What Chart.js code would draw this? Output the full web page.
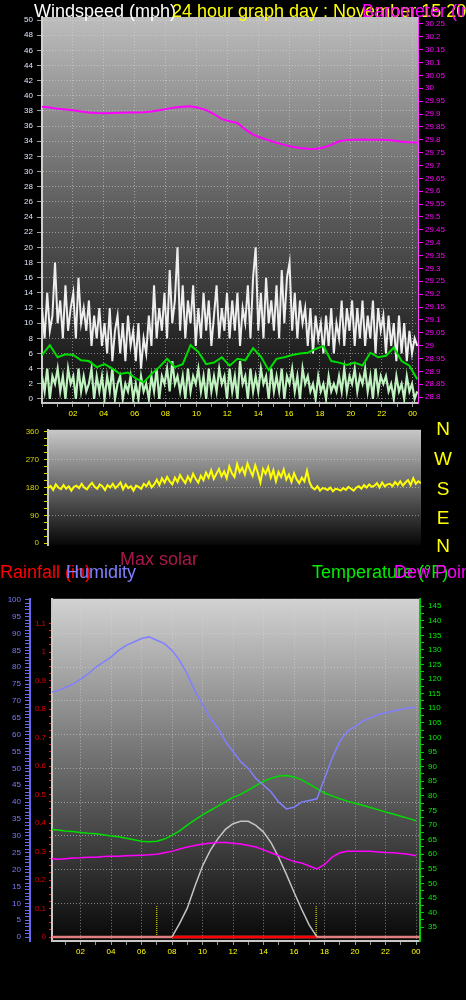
<!DOCTYPE html>
<html>
<head>
<meta charset="utf-8">
<script src="https://cdn.jsdelivr.net/npm/chart.js@4.4.0/dist/chart.umd.min.js"></script>
<style>
body { margin:0; background:#000; width:466px; height:1000px; overflow:hidden; position:relative; font-family:"Liberation Sans", Arial, sans-serif; }
canvas { position:absolute; left:0; }
.t { position:absolute; font-size:18px; line-height:18px; white-space:nowrap; }
.d { position:absolute; left:434px; width:18px; text-align:center; font-size:19px; line-height:19px; color:#ffff00; }
</style>
</head>
<body>
<canvas id="windChart" width="466" height="420" style="top:0"></canvas>
<canvas id="dirChart" width="466" height="135" style="top:420px"></canvas>
<canvas id="tempChart" width="466" height="410" style="top:590px"></canvas>

<div class="t" style="left:34px;top:2px;color:#fff">Windspeed (mph)</div>
<div class="t" style="left:172px;top:2px;color:#ffff00">24 hour graph day : November 15 2014</div>
<div class="t" style="left:362px;top:2px;color:#ff00ff">Barometer (in)</div>

<div class="d" style="top:419px">N</div>
<div class="d" style="top:449px">W</div>
<div class="d" style="top:479px">S</div>
<div class="d" style="top:508px">E</div>
<div class="d" style="top:536px">N</div>

<div class="t" style="left:120px;top:550px;color:#a8184c">Max solar</div>
<div class="t" style="left:0;top:563px;color:#ff0000">Rainfall (in)</div>
<div class="t" style="left:66px;top:563px;color:#8080ff">Humidity</div>
<div class="t" style="left:312px;top:563px;color:#00ee00">Temperature (°F)</div>
<div class="t" style="left:394px;top:563px;color:#ff00ff">Dew Point (°F)</div>

<script>
// ---- tick labels ----
const hourTicks = [0,1,2,3,4,5,6,7,8,9,10,11,12,13,14,15,16,17,18,19,20,21,22,23,24];
const windTicks = [0,2,4,6,8,10,12,14,16,18,20,22,24,26,28,30,32,34,36,38,40,42,44,46,48,50];
const baroLabels = ['28.8','28.85','28.9','28.95','29','29.05','29.1','29.15','29.2','29.25','29.3','29.35','29.4','29.45','29.5','29.55','29.6','29.65','29.7','29.75','29.8','29.85','29.9','29.95','30','30.05','30.1','30.15','30.2','30.25'];
const dirLabels = ['0','90','180','270','360'];
const humLabels = ['0','5','10','15','20','25','30','35','40','45','50','55','60','65','70','75','80','85','90','95','100'];
const rainLabels = ['0','0.1','0.2','0.3','0.4','0.5','0.6','0.7','0.8','0.9','1','1.1'];
const tempLabels = ['35','40','45','50','55','60','65','70','75','80','85','90','95','100','105','110','115','120','125','130','135','140','145'];

// ---- top panel: wind (10 minute samples) and barometer (half hour) ----
const gust = [
  12,8,14,9,11,18,  10,13,8,15,9,12,  14,8,16,10,12,9,  13,7,11,8,12,7,
  10,6,12,5,9,11,   6,10,5,11,7,9,    5,10,4,8,6,11,    7,15,8,12,9,14,
  8,17,10,13,20,9,  15,8,13,10,15,7,  12,8,14,9,13,7,   11,15,8,12,9,14,
  8,13,9,14,7,12,   10,15,8,16,20,9,  14,8,16,10,13,9,  15,8,17,10,16,18,
  9,14,8,13,10,12,  7,12,6,11,8,10,   6,11,7,12,6,10,   8,13,7,12,9,13,
  7,12,8,13,7,11,   8,13,6,12,9,11,   6,11,7,10,5,11,   6,10,5,9,6,8,
  7
];
const windSpeed = [
  3,1,4,0,3,2,  4,1,3,0,4,2,  3,0,4,1,3,1,  2,4,0,3,1,3,
  0,3,1,4,0,2,  3,0,2,1,3,0,  2,0,3,1,2,0,  3,1,4,0,3,2,
  4,1,5,2,3,1,  3,0,4,1,3,2,  4,1,3,0,4,1,  3,1,4,2,3,0,
  4,1,3,0,5,2,  3,0,4,1,3,1,  4,2,3,0,4,1,  3,1,4,0,3,2,
  4,1,3,0,4,2,  3,1,2,0,3,1,  2,0,3,1,2,1,  3,1,4,1,3,2,
  4,1,3,2,4,1,  3,0,4,1,3,2,  3,1,2,0,3,1,  2,0,3,1,2,0,
  1
];
const avgSpeed = [
  5.8,7.1,5.5,5.9,5.8,5.1,5.0,4.2,4.6,4.0,3.3,3.5,2.7,2.2,3.3,4.2,
  5.3,4.2,4.6,7.1,6.2,4.6,4.8,5.5,4.4,5.3,5.1,6.7,5.6,3.8,5.3,5.5,
  5.8,6.0,6.1,6.6,7.0,5.0,4.8,4.5,4.8,4.4,6.1,5.5,5.7,6.8,5.0,4.4,
  2.6
];
const pressure = [
  29.928,29.925,29.92,29.918,29.915,29.91,29.906,29.904,29.903,29.904,
  29.905,29.906,29.906,29.907,29.91,29.915,29.92,29.925,29.928,29.93,
  29.924,29.915,29.9,29.88,29.872,29.865,29.84,29.82,29.808,29.798,
  29.788,29.78,29.773,29.768,29.765,29.764,29.77,29.78,29.794,29.799,
  29.8,29.801,29.8,29.8,29.799,29.797,29.792,29.79,29.789
];

// ---- middle panel: wind direction (10 minute samples) ----
const direction = [
  178,185,172,190,180,175,  188,176,184,170,182,186,  178,192,180,174,186,195,
  182,176,190,184,172,188,  180,192,178,186,196,174,  190,178,184,170,186,182,
  176,192,184,198,180,190,  205,188,210,196,214,200,  190,212,198,220,206,194,
  216,200,224,208,196,218,  204,228,212,236,208,224,  240,216,232,210,248,226,
  214,256,230,244,222,258,  236,218,252,228,196,240,  224,246,212,236,200,230,
  214,238,206,222,198,226,  206,194,212,200,234,196,  180,174,184,170,178,176,
  172,180,168,176,174,170,  178,172,182,176,170,180,  184,176,188,180,190,182,
  186,194,180,196,184,190,  192,184,198,188,200,186,  196,204,188,210,192,200,
  194
];

// ---- bottom panel: half hour samples ----
const humidity = [
  72.5,73,74,75,76.5,78,80,81.5,83,85,86.5,87.5,88.5,89,88,87,85,82,78,73,
  69,65,62,58,55,52,50,47,45,43,40,38,38.5,40,40.5,41,47,53,58,61,
  62.5,64,65,66,66.5,67,67.5,68,68
];
const temperature = [
  68.5,68.3,68,67.8,67.5,67.2,67,66.7,66.3,66,65.5,65,64.5,64.3,64.5,65.2,66.5,68,70,71.8,
  73.5,75,76.5,78,79.5,80.5,82,83.5,85,86,86.8,87,86.5,85.5,84,82.5,81,80,79,78.2,
  77.5,76.8,76,75.3,74.5,73.8,73,72.3,71.5
];
const dewPoint = [
  58.5,58.3,58.5,58.7,58.8,59,59,59.2,59.3,59.3,59.5,59.6,59.7,59.8,60,60.5,61,61.8,62.5,63,
  63.5,63.8,64,64,63.8,63.5,63,62.5,61.5,60.5,59.5,58.5,57.5,57,56,55,56.5,59,60.5,61,
  61,61,61,60.8,60.6,60.5,60.3,60,59.5
];
// max solar from 08:00 to 17:30, every half hour (W/m2)
const maxSolar = [0,40,85,150,210,255,290,318,335,342,342,330,310,278,235,185,132,82,35,0];
const solar = [0,0];            // measured solar, 08:00 and 17:30
const rainfall = [0,0];         // start and end of day
const sunMarks = [7.0,17.45];   // sunrise / sunset marker hours

// ---- time grids ----
const tenMinTop = gust.map((_, i) => i * 24.3 / (gust.length - 1));
const halfHourTop = pressure.map((_, i) => i * 24.3 / (pressure.length - 1));
const tenMinDir = direction.map((_, i) => i * 24.3 / (direction.length - 1));
const halfHour = humidity.map((_, i) => i * 0.5);
const solarHours = maxSolar.map((_, i) => 8 + i * 0.5);

const xy = (xs, ys) => ys.map((y, i) => ({ x: xs[i], y: y }));
const setTicks = vals => scale => { scale.ticks = vals.map(v => ({ value: v })); };
const hourLabel = v => (v % 2 !== 0 || v === 0) ? '' : (v === 24 ? '00' : String(v).padStart(2, '0'));

const font8 = { size: 8, family: '"Liberation Sans", Arial, sans-serif' };
const dotted = 'rgba(215,215,215,0.55)';

// gradient behind each plot area
const plotBackground = {
  id: 'plotBackground',
  beforeDraw(chart, args, opts) {
    const { ctx, chartArea: a } = chart;
    const g = ctx.createLinearGradient(0, a.top, 0, a.bottom);
    g.addColorStop(0, opts.top);
    g.addColorStop(0.5, opts.mid);
    g.addColorStop(1, opts.bottom);
    ctx.save();
    ctx.fillStyle = g;
    ctx.fillRect(a.left, a.top, a.right - a.left, a.bottom - a.top);
    ctx.restore();
  }
};

function baseOptions(bg, pad) {
  return {
    responsive: false,
    animation: false,
    layout: { padding: pad },
    elements: { point: { radius: 0 }, line: { tension: 0 } },
    plugins: { legend: { display: false }, tooltip: { enabled: false }, plotBackground: bg }
  };
}

// ---------- wind / barometer ----------
const windOpts = baseOptions({ top: '#bdbdbd', mid: '#5c5c5c', bottom: '#0c0c0c' }, { top: 17 });
windOpts.scales = {
  x: {
    type: 'linear', min: 0, max: 24.35,
    afterBuildTicks: setTicks(hourTicks),
    afterFit: s => { s.height = 17; },
    ticks: { color: '#ffff00', font: font8, padding: 2, maxRotation: 0, autoSkip: false, callback: hourLabel },
    grid: { color: c => c.tick && c.tick.value % 2 === 0 ? dotted : 'transparent', tickColor: '#9a9a9a', tickLength: 4 },
    border: { color: '#c8c8c8', width: 2, dash: [1, 2] }
  },
  yWind: {
    type: 'linear', position: 'left', min: -0.53, max: 50.4,
    afterBuildTicks: setTicks(windTicks),
    afterFit: s => { s.width = 42; },
    ticks: { color: '#dde6ff', font: font8, padding: 4, autoSkip: false },
    grid: { color: dotted, tickColor: '#a0a0a0', tickLength: 5 },
    border: { color: '#cfcfcf', width: 2, dash: [1, 2] }
  },
  yBaro: {
    type: 'linear', position: 'right', min: 28.777, max: 30.277,
    afterBuildTicks: setTicks(baroLabels.map(Number)),
    afterFit: s => { s.width = 48; },
    ticks: { color: '#ff00ff', font: font8, padding: 2, autoSkip: false, callback: v => String(Math.round(v * 100) / 100) },
    grid: { drawOnChartArea: false, tickColor: '#ff00ff', tickLength: 5 },
    border: { color: '#ff40ff', width: 1 }
  }
};
new Chart(document.getElementById('windChart'), {
  type: 'line',
  data: {
    datasets: [
      { label: 'Barometer', data: xy(halfHourTop, pressure), yAxisID: 'yBaro', borderColor: '#ff00ff', borderWidth: 2 },
      { label: 'Average speed', data: xy(halfHourTop, avgSpeed), yAxisID: 'yWind', borderColor: '#00dd00', borderWidth: 2 },
      { label: 'Wind speed', data: xy(tenMinTop, windSpeed), yAxisID: 'yWind', borderColor: '#c0f2c0', borderWidth: 2.2 },
      { label: 'Gust', data: xy(tenMinTop, gust), yAxisID: 'yWind', borderColor: '#eeeeee', borderWidth: 2 }
    ]
  },
  options: windOpts,
  plugins: [plotBackground]
});

// ---------- wind direction ----------
const dirOpts = baseOptions({ top: '#c8c8c8', mid: '#666666', bottom: '#060606' }, { top: 7, bottom: 7, right: 45 });
dirOpts.scales = {
  x: { type: 'linear', min: 0, max: 24.3, display: false },
  y: {
    type: 'linear', position: 'left', min: -6.2, max: 366.2,
    afterBuildTicks: setTicks([0,22.5,45,67.5,90,112.5,135,157.5,180,202.5,225,247.5,270,292.5,315,337.5,360]),
    afterFit: s => { s.width = 48; },
    ticks: { color: '#d6d600', font: font8, padding: 5, autoSkip: false, callback: v => dirLabels.includes(String(v)) ? String(v) : '' },
    grid: { color: c => c.tick && c.tick.value % 90 === 0 && c.tick.value > 0 && c.tick.value < 360 ? dotted : 'transparent', tickColor: '#d6d600', tickLength: 4 },
    border: { color: '#c8c8c8', width: 2, dash: [1, 2] }
  }
};
new Chart(document.getElementById('dirChart'), {
  type: 'line',
  data: {
    datasets: [
      { label: 'Direction', data: xy(tenMinDir, direction), borderColor: '#ffff00', borderWidth: 2 }
    ]
  },
  options: dirOpts,
  plugins: [plotBackground]
});

// ---------- humidity / temperature / rain / solar ----------
const humTicks = [];
for (let v = 0; v <= 100; v++) humTicks.push(v);
const rainTicks = [];
for (let i = 0; i <= 44; i++) rainTicks.push(Math.round(i * 25) / 1000);
const tempTicks = [];
for (let v = 35; v <= 145; v += 2.5) tempTicks.push(v);

const tempOpts = baseOptions({ top: '#d2d2d2', mid: '#6a6a6a', bottom: '#080808' }, { top: 6, bottom: 39 });
tempOpts.scales = {
  x: {
    type: 'linear', min: 0.13, max: 24.26,
    afterBuildTicks: setTicks(hourTicks.slice(1)),
    afterFit: s => { s.height = 20; },
    ticks: { color: '#ffff00', font: font8, padding: 2, maxRotation: 0, autoSkip: false, callback: hourLabel },
    grid: { color: c => c.tick && c.tick.value % 2 === 0 ? dotted : 'transparent', tickColor: '#9a9a9a', tickLength: 4 },
    border: { color: '#c8c8c8', width: 2, dash: [1, 2] }
  },
  yHum: {
    type: 'linear', position: 'left', weight: 2, min: -1.18, max: 100.3,
    afterBuildTicks: setTicks(humTicks),
    afterFit: s => { s.width = 30; },
    ticks: { color: '#7a7aff', font: font8, padding: 4, autoSkip: false, callback: v => humLabels.includes(String(v)) ? String(v) : '' },
    grid: { drawOnChartArea: false, tickColor: '#6a6aee', tickLength: 5 },
    border: { color: '#6a6aee', width: 2 }
  },
  yRain: {
    type: 'linear', position: 'left', weight: 1, min: -0.014, max: 1.187,
    afterBuildTicks: setTicks(rainTicks),
    afterFit: s => { s.width = 22; },
    ticks: { color: '#dd0000', font: font8, padding: 3, autoSkip: false, callback: v => { const l = String(Math.round(v * 1000) / 1000); return rainLabels.includes(l) ? l : ''; } },
    grid: { drawOnChartArea: false, tickColor: '#dd2020', tickLength: 3 },
    border: { color: '#c8c8c8', width: 2 }
  },
  yGrid: {
    type: 'linear', display: true, position: 'left', weight: 0, min: -1.18, max: 100.3,
    afterBuildTicks: setTicks([10,20,30,40,50,60,70,80,90,100]),
    afterFit: s => { s.width = 0; },
    ticks: { display: false },
    grid: { color: dotted, drawTicks: false },
    border: { display: false, dash: [1, 2] }
  },
  yTemp: {
    type: 'linear', position: 'right', min: 30.3, max: 147.5,
    afterBuildTicks: setTicks(tempTicks),
    afterFit: s => { s.width = 46; },
    ticks: { color: '#00ee00', font: font8, padding: 4, autoSkip: false, callback: v => tempLabels.includes(String(v)) ? String(v) : '' },
    grid: { drawOnChartArea: false, tickColor: '#00cc00', tickLength: 4 },
    border: { color: '#00cc00', width: 2 }
  },
  ySolar: { type: 'linear', display: false, min: -12, max: 1000 }
};
new Chart(document.getElementById('tempChart'), {
  type: 'line',
  data: {
    datasets: [
      { label: 'Humidity', data: xy(halfHour, humidity), yAxisID: 'yHum', borderColor: '#8080ff', borderWidth: 1.5 },
      { label: 'Temperature', data: xy(halfHour, temperature), yAxisID: 'yTemp', borderColor: '#00dd00', borderWidth: 1.5 },
      { label: 'Dew point', data: xy(halfHour, dewPoint), yAxisID: 'yTemp', borderColor: '#ff00ff', borderWidth: 1.5 },
      { label: 'Max solar', data: xy(solarHours, maxSolar), yAxisID: 'ySolar', borderColor: '#c4c4c4', borderWidth: 1.5 },
      { label: 'Solar', data: xy([8, 17.5], solar), yAxisID: 'ySolar', borderColor: '#ff0000', borderWidth: 2.5 },
      { label: 'Rainfall', data: xy([0, 24.3], rainfall), yAxisID: 'yRain', borderColor: '#e08080', borderWidth: 2.5 },
      { label: 'Sunrise', data: [{ x: sunMarks[0], y: 0 }, { x: sunMarks[0], y: 0.108 }], yAxisID: 'yRain', borderColor: '#ffff00', borderWidth: 1, borderDash: [1, 1] },
      { label: 'Sunset', data: [{ x: sunMarks[1], y: 0 }, { x: sunMarks[1], y: 0.108 }], yAxisID: 'yRain', borderColor: '#ffff00', borderWidth: 1, borderDash: [1, 1] }
    ]
  },
  options: tempOpts,
  plugins: [plotBackground]
});
</script>
</body>
</html>
